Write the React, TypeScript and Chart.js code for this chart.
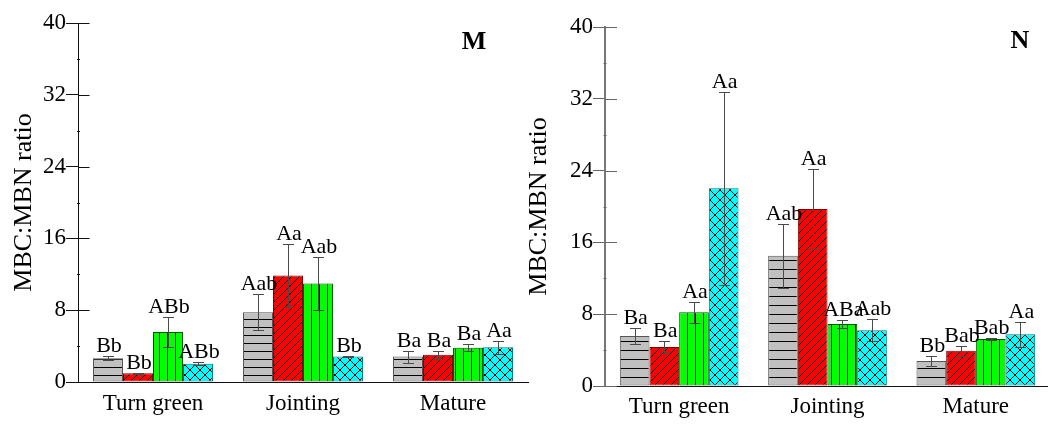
import React, { useEffect, useRef } from 'react';
import { Chart, registerables } from 'chart.js';

Chart.register(...registerables);

// ---------- data ----------
const categories = ['Turn green', 'Jointing', 'Mature'];
const seriesNames = ['Treatment 1', 'Treatment 2', 'Treatment 3', 'Treatment 4'];
const yTicks = [0, 8, 16, 24, 32, 40];

// Panel M
const mGray = [2.65, 7.78, 2.83];
const mRed = [0.98, 11.86, 3.05];
const mGreen = [5.58, 10.97, 3.83];
const mCyan = [2.02, 2.83, 3.87];
const mGrayErr = [0.22, 2.0, 0.67];
const mRedErr = [0.05, 3.5, 0.45];
const mGreenErr = [1.68, 3.0, 0.37];
const mCyanErr = [0.18, 0.1, 0.7];
const mGrayLbl = ['Bb', 'Aab', 'Ba'];
const mRedLbl = ['Bb', 'Aa', 'Ba'];
const mGreenLbl = ['ABb', 'Aab', 'Ba'];
const mCyanLbl = ['ABb', 'Bb', 'Aa'];

// Panel N
const nGray = [5.57, 14.52, 2.79];
const nRed = [4.35, 19.72, 3.94];
const nGreen = [8.21, 6.91, 5.24];
const nCyan = [22.03, 6.2, 5.76];
const nGrayErr = [0.93, 3.57, 0.52];
const nRedErr = [0.63, 4.5, 0.57];
const nGreenErr = [1.17, 0.48, 0.15];
const nCyanErr = [10.73, 1.24, 1.36];
const nGrayLbl = ['Ba', 'Aab', 'Bb'];
const nRedLbl = ['Ba', 'Aa', 'Bab'];
const nGreenLbl = ['Aa', 'ABa', 'Bab'];
const nCyanLbl = ['Aa', 'Aab', 'Aa'];

// ---------- styles ----------
const FONT = "'Liberation Serif', 'Times New Roman', serif";

function makePattern(kind: string, bg: string, size: number) {
  const c = document.createElement('canvas');
  c.width = size;
  c.height = size;
  const g = c.getContext('2d')!;
  g.fillStyle = bg;
  g.fillRect(0, 0, size, size);
  g.strokeStyle = '#000';
  g.lineWidth = 1;
  g.beginPath();
  if (kind === 'h') {
    g.moveTo(0, size - 0.5);
    g.lineTo(size, size - 0.5);
  } else if (kind === 'v') {
    g.moveTo(size - 0.5, 0);
    g.lineTo(size - 0.5, size);
  } else if (kind === 'd') {
    g.moveTo(0, size);
    g.lineTo(size, 0);
    g.moveTo(-2, 2);
    g.lineTo(2, -2);
    g.moveTo(size - 2, size + 2);
    g.lineTo(size + 2, size - 2);
  } else if (kind === 'x') {
    g.moveTo(0, 0);
    g.lineTo(size, size);
    g.moveTo(0, size);
    g.lineTo(size, 0);
  }
  g.stroke();
  return g.createPattern(c, 'repeat')!;
}

const errorBarPlugin = {
  id: 'errorBars',
  afterDatasetsDraw(chart: any, _args: any, opts: any) {
    const ctx = chart.ctx;
    const y = chart.scales.y;
    ctx.save();
    chart.data.datasets.forEach((ds: any, i: number) => {
      const meta = chart.getDatasetMeta(i);
      meta.data.forEach((el: any, j: number) => {
        const v = ds.data[j];
        const e = ds.errors[j];
        const top = Math.round(y.getPixelForValue(v + e)) + 0.5;
        const bot = Math.round(y.getPixelForValue(v - e)) + 0.5;
        const x = Math.round(el.x) + 0.5;
        ctx.strokeStyle = opts.color;
        ctx.lineWidth = 1;
        ctx.beginPath();
        ctx.moveTo(x, top);
        ctx.lineTo(x, bot);
        ctx.moveTo(x - 5.5, top);
        ctx.lineTo(x + 5.5, top);
        ctx.moveTo(x - 5.5, bot);
        ctx.lineTo(x + 5.5, bot);
        ctx.stroke();
        ctx.fillStyle = '#000';
        ctx.font = `22px ${FONT}`;
        ctx.textAlign = 'center';
        ctx.textBaseline = 'alphabetic';
        ctx.fillText(ds.letters[j], el.x + 1, top - 5);
      });
    });
    ctx.restore();
  },
};

const axisExtrasPlugin = {
  id: 'axisExtras',
  afterDraw(chart: any, _args: any, opts: any) {
    const ctx = chart.ctx;
    const y = chart.scales.y;
    const area = chart.chartArea;
    const ax = Math.round(area.left) + 0.5 - (opts.axisWidth > 1 ? 0.5 : 0);
    ctx.save();
    ctx.strokeStyle = opts.tickColor;
    ctx.lineWidth = 1;
    ctx.beginPath();
    yTicks.forEach((t) => {
      const py = Math.round(y.getPixelForValue(t)) + 0.5;
      ctx.moveTo(ax, py);
      ctx.lineTo(ax + opts.innerTick, py);
    });
    for (let t = 4; t < 40; t += 8) {
      const py = Math.round(y.getPixelForValue(t)) + 0.5;
      ctx.moveTo(ax - 1.5, py);
      ctx.lineTo(ax + 1.5, py);
    }
    ctx.stroke();
    ctx.fillStyle = '#000';
    ctx.font = `bold 26px ${FONT}`;
    ctx.textAlign = 'center';
    ctx.textBaseline = 'middle';
    ctx.fillText(opts.letter, area.right - opts.letterDx, area.top + opts.letterDy);
    ctx.restore();
  },
};

function buildConfig(
  values: number[][],
  errors: number[][],
  letters: string[][],
  p: any
) {
  const fills = [
    makePattern('h', '#c0c0c0', p.hSize),
    makePattern('d', '#ff0000', 8),
    makePattern('v', '#00ff00', 8),
    makePattern('x', '#00ffff', 10),
  ];
  const borders = ['#555555', '#7a0000', '#005500', '#007a7a'];
  return {
    type: 'bar',
    data: {
      labels: categories,
      datasets: values.map((v, i) => ({
        label: seriesNames[i],
        data: v,
        errors: errors[i],
        letters: letters[i],
        backgroundColor: fills[i],
        borderColor: borders[i],
        borderWidth: 1,
        borderSkipped: false,
        categoryPercentage: 0.8,
        barPercentage: 1.0,
      })),
    },
    options: {
      responsive: false,
      animation: false,
      devicePixelRatio: 1,
      layout: { padding: { top: p.padTop, right: 2, left: 0, bottom: 0 } },
      plugins: {
        legend: { display: false },
        tooltip: { enabled: false },
        errorBars: { color: '#4a4a4a' },
        axisExtras: {
          tickColor: p.tickColor,
          innerTick: p.innerTick,
          axisWidth: p.axisWidth,
          letter: p.letter,
          letterDx: p.letterDx,
          letterDy: p.letterDy,
        },
      },
      scales: {
        x: {
          type: 'category',
          z: 1,
          grid: { display: true, drawOnChartArea: false, drawTicks: false },
          border: { display: true, color: '#111', width: 1 },
          ticks: { font: { family: FONT, size: 23 }, color: '#000', padding: p.xPad },
          afterFit: (s: any) => {
            s.height = p.xHeight;
          },
        },
        y: {
          min: 0,
          max: 40,
          z: 1,
          afterBuildTicks: (s: any) => {
            s.ticks = yTicks.map((v) => ({ value: v }));
          },
          ticks: { font: { family: FONT, size: 23 }, color: '#000', padding: 0 },
          grid: {
            display: true,
            drawOnChartArea: false,
            drawTicks: true,
            tickLength: 12,
            color: p.tickColor,
            lineWidth: 1,
          },
          border: { display: true, color: p.axisColor, width: p.axisWidth },
          title: {
            display: true,
            text: 'MBC:MBN ratio',
            font: { family: FONT, size: 26 },
            color: '#000',
            padding: { top: p.titlePad, bottom: 0 },
          },
          afterFit: (s: any) => {
            s.width = p.yWidth;
          },
        },
      },
    },
    plugins: [errorBarPlugin, axisExtrasPlugin],
  } as any;
}

function Panel(props: { cfg: () => any; left: number; width: number }) {
  const ref = useRef<HTMLCanvasElement>(null);
  useEffect(() => {
    const chart = new Chart(ref.current!, props.cfg());
    return () => chart.destroy();
  }, []);
  return (
    <canvas
      ref={ref}
      width={props.width}
      height={424}
      style={{ position: 'absolute', left: props.left, top: 0, width: props.width, height: 424 }}
    />
  );
}

export default function App() {
  const cfgM = () =>
    buildConfig(
      [mGray, mRed, mGreen, mCyan],
      [mGrayErr, mRedErr, mGreenErr, mCyanErr],
      [mGrayLbl, mRedLbl, mGreenLbl, mCyanLbl],
      {
        hSize: 8,
        padTop: 23,
        xHeight: 42,
        xPad: 8,
        yWidth: 78,
        titlePad: 9,
        tickColor: '#111',
        axisColor: '#111',
        axisWidth: 1,
        innerTick: 11,
        letter: 'M',
        letterDx: 54,
        letterDy: 19,
      }
    );
  const cfgN = () =>
    buildConfig(
      [nGray, nRed, nGreen, nCyan],
      [nGrayErr, nRedErr, nGreenErr, nCyanErr],
      [nGrayLbl, nRedLbl, nGreenLbl, nCyanLbl],
      {
        hSize: 9,
        padTop: 27,
        xHeight: 38,
        xPad: 7,
        yWidth: 85,
        titlePad: 4,
        tickColor: '#666',
        axisColor: '#777',
        axisWidth: 2,
        innerTick: 12,
        letter: 'N',
        letterDx: 30,
        letterDy: 14,
      }
    );
  return (
    <div
      style={{
        position: 'absolute',
        left: 0,
        top: 0,
        width: 1048,
        height: 424,
        overflow: 'hidden',
        background: '#fff',
      }}
    >
      <Panel cfg={cfgM} left={0} width={530} />
      <Panel cfg={cfgN} left={520} width={532} />
    </div>
  );
}
